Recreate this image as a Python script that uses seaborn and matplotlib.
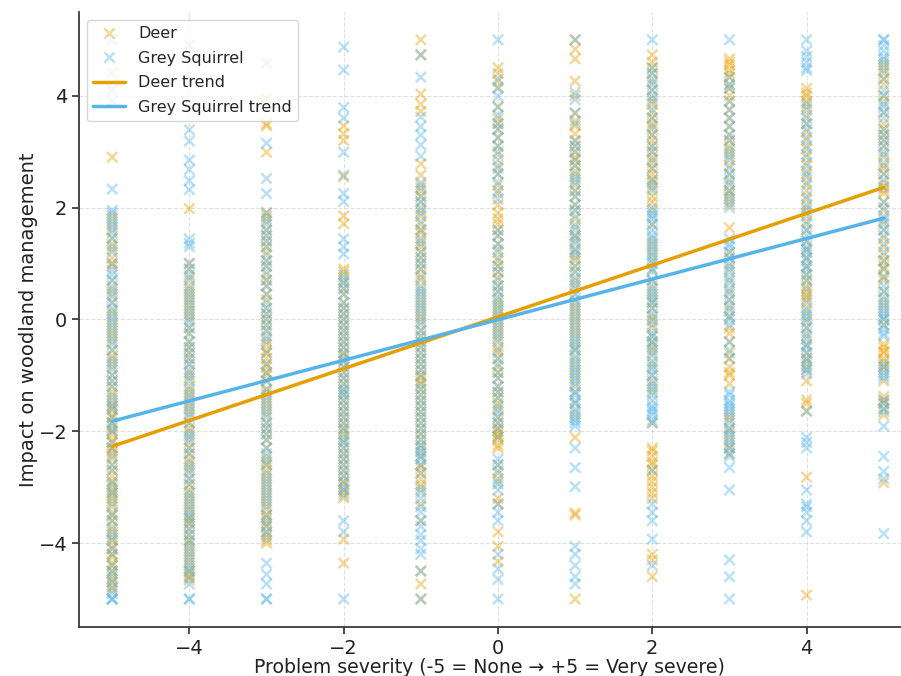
import numpy as np
import pandas as pd
import matplotlib
matplotlib.use("Agg")
import matplotlib.pyplot as plt
import seaborn as sns

severity = [-5, -4, -3, -2, -1, 0, 1, 2, 3, 4, 5]

deer_m5 = [2.9, 1.85, 1.6, 1.35, 1.1, 0.95, 0.7, 0.45, 0.3, 0.05, -0.2, -0.4, -0.65, -0.85, -1.1, -1.3, -1.5, -1.62, -1.75, -1.9, -2.05, -2.2, -2.35, -2.5, -2.6, -2.8, -2.95, -3.1, -3.3, -3.45, -3.6, -3.8, -3.95, -4.1, -4.25, -4.4, -4.55, -4.7, -4.85, 4.4, 1.25, -1.2, -2.4, -3.15,
           1.75, 1.45, 1.0, 0.55, 0.15, -0.1, -0.3, -0.55, -0.75, -1.0, -1.4, -1.55, -1.7, -1.85, -2.0, -2.15, -2.3, -2.7, -2.9, -3.05, -3.25, -3.5, -3.7, -3.9, -4.05, -4.2, -4.35, -4.5, -4.65, -4.78]
deer_m4 = [4.9, 4.3, 1.98, 1.0, 0.75, 0.5, 0.3, 0.1, -0.15, -0.4, -0.6, -0.8, -1.05, -1.3, -1.5, -1.7, -1.95, -2.2, -2.4, -2.6, -2.85, -3.05, -3.25, -3.45, -3.65, -3.85, -4.0, -4.2, -4.4, -4.55, -4.66, 0.2, -2.5, -3.6, -4.3,
           0.9, 0.6, 0.4, 0.0, -0.25, -0.5, -0.7, -0.95, -1.2, -1.4, -1.6, -1.85, -2.05, -2.3, -2.7, -2.95, -3.15, -3.35, -3.55, -3.75, -3.95, -4.1, -4.5, -4.6]
deer_m3 = [3.95, 3.5, 3.46, 2.99, 1.85, 1.6, 1.4, 1.2, 0.95, 0.8, 0.6, 0.35, 0.1, -0.1, -0.35, -0.55, -0.7, -0.85, -1.0, -1.25, -1.4, -1.6, -1.85, -2.05, -2.3, -2.45, -2.6, -2.8, -3.0, -3.2, -3.4, -3.55, -3.7, -3.85, -4.0, 1.9, -0.6,
           1.75, 1.5, 1.3, 1.05, 0.7, 0.45, 0.2, 0.0, -0.2, -0.45, -0.8, -0.95, -1.1, -1.3, -1.5, -1.7, -1.95, -2.15, -2.55, -2.7, -2.9, -3.1, -3.3, -3.5, -3.65, -3.8, -3.95]
deer_m2 = [3.46, 3.32, 3.2, 1.85, 1.71, 0.9, 0.75, 0.55, 0.3, 0.1, -0.1, -0.3, -0.5, -0.6, -0.85, -1.05, -1.25, -1.45, -1.65, -1.85, -2.0, -2.2, -2.4, -2.6, -2.8, -2.95, -3.1, -3.19, -3.93, -4.36, 2.55, -0.65,
           0.85, 0.65, 0.45, 0.2, 0.0, -0.2, -0.4, -0.75, -0.95, -1.15, -1.35, -1.55, -1.75, -1.95, -2.1, -2.3, -2.5, -2.7, -2.9, -3.05]
deer_m1 = [5.0, 4.73, 4.03, 3.85, 3.72, 2.78, 2.58, 2.3, 2.1, 1.85, 1.7, 1.54, 1.3, 1.1, 0.9, 0.7, 0.4, 0.15, -0.05, -0.3, -0.5, -0.7, -0.9, -1.04, -1.17, -1.35, -1.55, -1.75, -1.95, -2.15, -2.35, -2.65, -2.85, -3.05, -3.3, -3.6, -4.5, -4.73, -5.0,
           2.4, 2.2, 1.95, 1.6, 1.4, 1.2, 1.0, 0.8, 0.55, 0.3, 0.05, -0.2, -0.4, -0.6, -0.8, -1.0, -1.1, -1.25, -1.45, -1.65, -1.85, -2.05, -2.25, -2.45, -2.6, -2.75, -2.95]
deer_0 = [4.5, 4.4, 4.26, 3.59, 3.4, 3.1, 2.75, 2.4, 2.05, 1.9, 1.71, 1.5, 1.2, 0.95, 0.75, 0.5, 0.25, 0.05, -0.15, -0.35, -0.6, -0.85, -1.05, -1.3, -1.5, -1.75, -1.95, -2.05, -2.15, -2.3, -2.6, -2.9, -3.2, -3.3, -3.8, -4.06, -4.33,
          4.15, 3.8, 3.5, 3.25, 2.95, 2.6, 2.25, 1.8, 1.6, 1.35, 1.05, 0.85, 0.6, 0.35, 0.15, -0.05, -0.25, -0.5, -0.7, -0.95, -1.2, -1.4, -1.6, -1.85, -2.0, -2.1, -2.25, -2.75]
deer_p1 = [5.0, 4.83, 4.66, 4.26, 3.69, 3.46, 3.32, 3.1, 2.9, 2.75, 2.55, 2.3, 2.05, 1.8, 1.5, 1.25, 1.05, 0.85, 0.6, 0.3, 0.1, -0.2, -0.45, -0.7, -1.0, -1.3, -2.11, -3.46, -3.5, -5.0,
           4.0, 3.55, 3.2, 3.0, 2.85, 2.65, 2.4, 2.2, 1.95, 1.65, 1.4, 1.15, 0.95, 0.7, 0.45, 0.2, 0.0, -0.1, -0.3, -0.55, -0.85, -1.15, -1.5, -1.7]
deer_p2 = [4.73, 4.6, 4.4, 4.1, 3.85, 3.6, 3.4, 3.2, 3.0, 2.8, 2.6, 2.45, 2.2, 1.95, 1.4, 1.1, 0.7, 0.4, 0.2, -0.03, -0.15, -0.4, -0.6, -1.0, -1.3, -1.85, -2.3, -2.45, -2.6, -2.8, -3.0, -3.2, -4.2, -4.3, -4.6,
           4.5, 4.25, 3.95, 3.7, 3.5, 3.3, 3.1, 2.9, 2.7, 2.5, 2.35, 2.1, 1.7, 1.25, 0.9, 0.55, 0.3, 0.05, -0.3, -0.5, -0.8, -1.15, -2.35, -2.55, -2.7, -2.9, -3.1]
deer_p3 = [4.66, 4.55, 4.46, 4.33, 4.13, 3.9, 3.6, 3.3, 3.1, 2.9, 2.6, 2.3, 2.15, 1.64, 1.2, 0.9, 0.5, 0.2, -0.15, -0.25, -0.6, -0.85, -0.95, -1.15, -1.8, -1.95, -2.2, -2.4,
           4.6, 4.4, 4.2, 4.0, 3.75, 3.45, 3.2, 3.0, 2.75, 2.45, 2.25, 2.05, 1.1, 0.7, 0.35, 0.05, -0.4, -0.7, -1.0, -1.7, -2.05, -2.3]
deer_p4 = [4.13, 3.99, 3.8, 3.5, 3.2, 2.9, 2.6, 2.3, 2.0, 1.75, 1.4, 1.1, 0.8, 0.6, 0.44, 0.3, 0.0, -0.3, -0.6, -0.8, -1.1, -1.44, -1.64, -2.82, -4.93,
           4.05, 3.9, 3.65, 3.35, 3.05, 2.75, 2.45, 2.15, 1.9, 1.6, 1.25, 0.95, 0.7, 0.5, 0.4, 0.15, -0.15, -0.45, -0.7, -0.9, -1.5]
deer_p5 = [4.6, 4.4, 4.2, 3.9, 3.5, 3.3, 3.1, 2.8, 2.6, 2.38, 2.25, 1.95, 1.6, 1.3, 1.04, 0.9, 0.77, 0.5, 0.2, -0.1, -0.44, -0.57, -0.7, -0.85, -1.1, -1.38, -1.5, -1.71, -2.92,
           4.5, 4.3, 4.0, 3.7, 3.4, 3.2, 2.95, 2.7, 2.45, 2.3, 2.1, 1.75, 1.45, 1.15, 0.95, 0.7, 0.35, 0.0, -0.5, -0.6, -0.75, -0.9, -1.45, -1.6]

sq_m5 = [5.0, 4.1, 3.9, 2.33, 1.95, 1.8, 1.65, 1.45, 1.2, 0.88, 0.8, 0.6, 0.4, 0.2, 0.0, -0.15, -0.35, -0.55, -0.8, -1.0, -1.2, -1.45, -1.6, -1.85, -2.0, -2.2, -2.45, -2.7, -2.9, -3.1, -3.35, -3.5, -3.75, -3.95, -4.2, -4.4, -4.6, -4.8, -5.0, -5.0, -5.0,
         1.9, 1.7, 1.55, 1.3, 1.0, 0.7, 0.5, 0.3, 0.1, -0.05, -0.25, -0.45, -0.7, -0.9, -1.1, -1.35, -1.55, -1.75, -1.95, -2.3, -2.6, -3.0, -3.2, -3.6, -3.85, -4.1, -4.5, -4.7, -4.9]
sq_m4 = [3.39, 3.19, 2.85, 2.68, 2.48, 2.32, 1.44, 1.3, 0.9, 0.7, 0.55, 0.35, 0.15, -0.05, -0.25, -0.5, -0.7, -0.9, -1.1, -1.35, -1.55, -1.75, -2.0, -2.15, -2.3, -2.55, -2.75, -2.95, -3.2, -3.4, -3.55, -3.75, -3.95, -4.15, -4.35, -4.5, -4.73, -5.0, -5.0, -2.1, -3.3,
         1.36, 1.0, 0.8, 0.45, 0.25, 0.05, -0.15, -0.4, -0.6, -0.8, -1.0, -1.25, -1.45, -1.65, -1.85, -2.4, -2.65, -2.85, -3.1, -3.5, -3.65, -3.85, -4.05, -4.25, -4.45, -4.62]
sq_m3 = [4.58, 3.15, 2.52, 2.25, 1.91, 1.7, 1.5, 1.3, 1.05, 0.85, 0.7, 0.45, 0.2, 0.0, -0.2, -0.4, -0.8, -1.1, -1.35, -1.55, -1.75, -1.95, -2.15, -2.4, -2.6, -2.75, -2.95, -3.15, -3.35, -3.6, -3.8, -4.36, -4.56, -4.73, -5.0, -5.0,
         1.8, 1.6, 1.4, 1.15, 0.95, 0.6, 0.3, 0.1, -0.1, -0.3, -0.6, -0.95, -1.25, -1.45, -1.65, -1.85, -2.05, -2.3, -2.5, -2.85, -3.05, -3.25, -3.5, -3.7, -3.9]
sq_m2 = [4.87, 4.46, 3.79, 3.6, 2.99, 2.58, 2.25, 2.11, 1.44, 1.3, 1.17, 0.8, 0.65, 0.45, 0.2, 0.0, -0.2, -0.4, -0.6, -0.75, -0.95, -1.15, -1.35, -1.55, -1.75, -1.95, -2.15, -2.3, -2.5, -2.7, -2.9, -3.05, -3.6, -3.8, -5.0,
         0.7, 0.55, 0.3, 0.1, -0.1, -0.3, -0.5, -0.7, -0.85, -1.05, -1.25, -1.45, -1.65, -1.85, -2.05, -2.2, -2.4, -2.6, -2.8, -3.0, -3.15, -1.3]
sq_m1 = [4.73, 4.33, 3.62, 3.45, 3.3, 3.12, 2.92, 2.45, 2.2, 2.0, 1.75, 1.45, 1.2, 1.0, 0.75, 0.5, 0.35, 0.2, 0.0, -0.2, -0.4, -0.6, -0.8, -1.0, -1.25, -1.45, -1.65, -1.85, -2.05, -2.25, -2.38, -2.5, -2.75, -3.0, -3.2, -3.45, -3.6, -3.7, -3.95, -4.2, -4.5, -5.0,
         2.35, 2.1, 1.9, 1.6, 1.35, 1.1, 0.9, 0.6, 0.45, 0.25, 0.1, -0.1, -0.3, -0.5, -0.7, -0.9, -1.15, -1.35, -1.55, -1.75, -1.95, -2.15, -2.3, -2.45, -2.6, -3.1, -3.35, -3.85, -4.1]
sq_0 = [5.0, 4.13, 3.99, 3.8, 3.5, 3.25, 3.0, 2.85, 2.6, 2.3, 1.6, 1.35, 1.1, 0.85, 0.6, 0.4, 0.2, 0.0, -0.2, -0.4, -0.7, -0.95, -1.2, -1.4, -1.65, -1.85, -2.5, -2.7, -2.85, -3.05, -3.45, -3.6, -4.2, -4.46, -4.65, -5.0,
        4.3, 3.65, 3.4, 3.1, 2.7, 2.45, 2.15, 1.5, 1.25, 0.95, 0.7, 0.5, 0.3, 0.1, -0.1, -0.3, -0.55, -0.8, -1.05, -1.3, -1.55, -1.75, -1.95, -2.1, -2.6, -2.95, -3.3]
sq_p1 = [5.0, 4.06, 3.93, 3.69, 3.19, 3.0, 2.85, 2.6, 2.45, 2.2, 1.95, 1.7, 1.5, 1.35, 1.2, 0.95, 0.75, 0.55, 0.35, 0.15, -0.05, -0.25, -0.4, -0.55, -0.75, -0.9, -1.05, -1.2, -1.35, -1.5, -1.65, -1.8, -1.91, -2.3, -2.65, -2.99, -4.06, -4.2, -4.4, -4.6, -4.73,
         3.5, 3.1, 2.75, 2.5, 2.3, 2.05, 1.85, 1.6, 1.45, 1.25, 1.1, 0.85, 0.65, 0.45, 0.25, 0.05, -0.15, -0.35, -0.5, -0.65, -0.8, -0.95, -1.1, -1.3, -1.45, -1.6, -1.75, -1.85]
sq_p2 = [5.0, 4.5, 4.3, 4.2, 4.0, 3.75, 3.45, 3.1, 2.85, 2.5, 2.3, 1.9, 1.8, 1.6, 1.45, 1.3, 1.15, 1.0, 0.85, 0.6, 0.45, 0.3, 0.1, -0.25, -0.4, -0.55, -0.75, -0.9, -1.1, -1.25, -1.45, -1.6, -1.71, -1.85, -2.7, -3.3, -3.45, -3.6, -3.93, -4.4,
         4.4, 4.1, 3.9, 3.6, 3.3, 3.0, 2.7, 2.4, 2.0, 1.85, 1.7, 1.5, 1.35, 1.2, 1.05, 0.9, 0.7, 0.5, 0.35, 0.2, 0.0, -0.1, -0.3, -0.45, -0.65, -0.85, -1.0, -1.2, -1.35, -1.55, -1.65, -1.8]
sq_p3 = [5.0, 4.33, 4.13, 3.75, 3.45, 3.2, 2.95, 2.7, 2.5, 2.3, 2.1, 1.44, 1.3, 1.1, 0.95, 0.75, 0.55, 0.35, 0.15, 0.0, -0.4, -0.7, -1.3, -1.45, -1.55, -1.65, -1.85, -2.0, -2.15, -2.3, -2.45, -2.65, -3.05, -4.3, -4.6, -5.0,
         4.2, 3.9, 3.6, 3.3, 3.05, 2.85, 2.6, 2.4, 2.2, 2.0, 1.35, 1.2, 1.0, 0.85, 0.65, 0.45, 0.25, 0.05, -0.1, -0.55, -1.35, -1.5, -1.6, -1.75, -1.95, -2.1, -2.25, -2.4]
sq_p4 = [5.0, 4.8, 4.6, 4.45, 3.86, 3.6, 3.4, 3.1, 2.8, 2.55, 2.2, 1.95, 1.7, 1.5, 1.3, 1.2, 1.05, 0.9, 0.7, 0.2, 0.05, -0.15, -0.35, -0.5, -0.7, -0.85, -0.97, -1.64, -2.11, -2.3, -3.05, -3.3, -3.45, -3.6, -3.8,
         4.7, 4.5, 3.75, 3.5, 3.25, 2.95, 2.65, 2.4, 2.05, 1.85, 1.6, 1.4, 1.25, 1.1, 0.95, 0.8, 0.55, 0.35, 0.1, -0.05, -0.25, -0.45, -0.6, -0.75, -0.9, -2.2, -3.35]
sq_p5 = [5.0, 5.0, 4.8, 4.65, 4.45, 4.1, 3.85, 3.7, 3.4, 3.2, 3.0, 2.75, 2.5, 2.1, 1.85, 1.7, 1.5, 1.2, 0.9, 0.6, 0.4, 0.25, 0.1, 0.0, -0.17, -0.3, -0.8, -0.95, -1.05, -1.44, -1.6, -1.91, -2.45, -2.72, -2.85, -3.83,
         4.9, 4.7, 4.55, 4.3, 4.0, 3.8, 3.6, 3.3, 3.1, 2.9, 2.6, 2.35, 2.0, 1.8, 1.6, 1.35, 1.05, 0.75, 0.5, 0.3, 0.15, 0.05, -0.1, -0.25, -0.85, -1.0, -1.5, -1.65]

trend_x = [-5, 5]
deer_trend = [-2.27, 2.36]
squirrel_trend = [-1.82, 1.81]

deer_cols = [deer_m5, deer_m4, deer_m3, deer_m2, deer_m1, deer_0, deer_p1, deer_p2, deer_p3, deer_p4, deer_p5]
sq_cols = [sq_m5, sq_m4, sq_m3, sq_m2, sq_m1, sq_0, sq_p1, sq_p2, sq_p3, sq_p4, sq_p5]

rows = []
for sev, vals in zip(severity, deer_cols):
    rows += [("Deer", sev, v) for v in vals]
for sev, vals in zip(severity, sq_cols):
    rows += [("Grey Squirrel", sev, v) for v in vals]
df = pd.DataFrame(rows, columns=["Species", "Severity", "Impact"])

trend_df = pd.DataFrame({
    "Severity": trend_x + trend_x,
    "Impact": deer_trend + squirrel_trend,
    "Line": ["Deer trend"] * 2 + ["Grey Squirrel trend"] * 2,
})

sns.set_theme(style="ticks")
plt.rcParams['font.family'] = ['DejaVu Sans']

DEER = "#E69F00"
SQ = "#56B4E9"

fig = plt.figure(figsize=(9.01, 6.76), dpi=100)
ax = fig.add_axes([0.0877, 0.0725, 0.912, 0.91])

sns.scatterplot(data=df, x="Severity", y="Impact", hue="Species",
                palette={"Deer": DEER, "Grey Squirrel": SQ},
                marker="x", s=55, alpha=0.4, linewidth=1.8, ax=ax)
sns.lineplot(data=trend_df, x="Severity", y="Impact", hue="Line",
             palette={"Deer trend": DEER, "Grey Squirrel trend": SQ},
             linewidth=2.5, ax=ax)

ax.set_xlim(-5.43, 5.22)
ax.set_ylim(-5.5, 5.5)
ax.set_xticks([-4, -2, 0, 2, 4])
ax.set_yticks([-4, -2, 0, 2, 4])
ax.set_xticklabels(["\u22124", "\u22122", "0", "2", "4"])
ax.set_yticklabels(["\u22124", "\u22122", "0", "2", "4"])
ax.tick_params(labelsize=14, length=5, color="#333333", labelcolor="#222222")
ax.grid(True, linestyle="--", color="#cccccc", alpha=0.6, linewidth=0.8)
sns.despine(ax=ax)
ax.spines["left"].set_color("#333333")
ax.spines["bottom"].set_color("#333333")

ax.set_xlabel("Problem severity (-5 = None \u2192 +5 = Very severe)", fontsize=13.6, labelpad=0, color="#222222")
ax.set_ylabel("Impact on woodland management", fontsize=14, labelpad=0.5, color="#222222")

handles, labels = ax.get_legend_handles_labels()
leg = ax.legend(handles, labels, loc="upper left", fontsize=11.5,
                frameon=True, framealpha=0.8, borderpad=0.4, labelspacing=0.6,
                bbox_to_anchor=(0.0, 1.0))
for h in leg.legend_handles[:2]:
    h.set_alpha(0.4)

fig.savefig("out.png", dpi=100)
